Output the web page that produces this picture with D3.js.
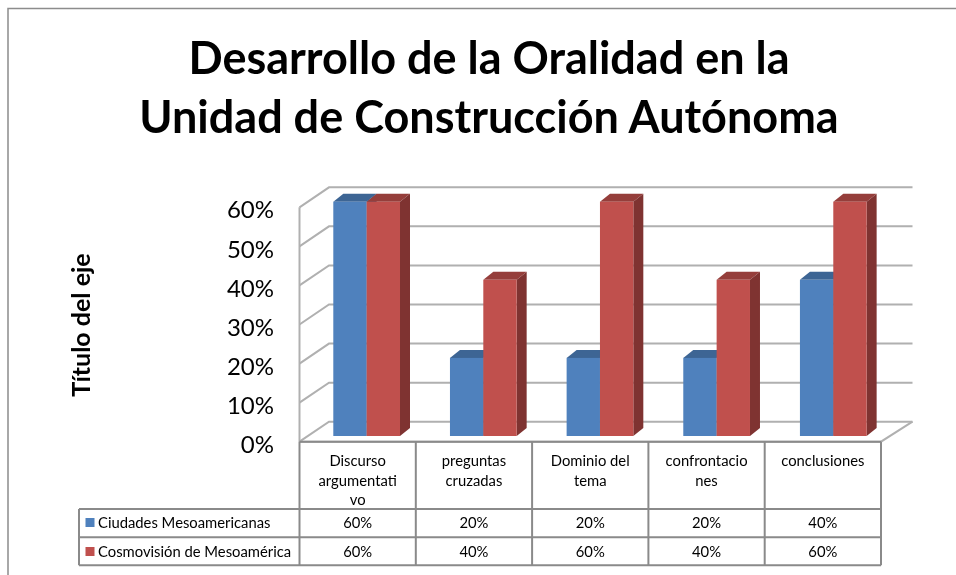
<!DOCTYPE html>
<html>
<head>
<meta charset="utf-8">
<title>Desarrollo de la Oralidad</title>
<style>
  body { margin: 0; background: #fff; }
  svg { display: block; filter: blur(0.45px); }
  text { font-family: Lato, "Open Sans", sans-serif; fill: #000; }
</style>
<script src="https://cdnjs.cloudflare.com/ajax/libs/d3/7.8.5/d3.min.js"></script>
</head>
<body>
<script>
// data
var categories = ["Discurso argumentativo", "preguntas cruzadas", "Dominio del tema", "confrontaciones", "conclusiones"];
var categoryLines = [["Discurso", "argumentati", "vo"], ["preguntas", "cruzadas"], ["Dominio del", "tema"], ["confrontacio", "nes"], ["conclusiones"]];
var seriesNames = ["Ciudades Mesoamericanas", "Cosmovisión de Mesoamérica"];
var ciudades = [0.6, 0.2, 0.2, 0.2, 0.4];
var cosmovision = [0.6, 0.4, 0.6, 0.4, 0.6];
var yTicks = [0, 0.1, 0.2, 0.3, 0.4, 0.5, 0.6];
var titleLines = ["Desarrollo de la Oralidad en la", "Unidad de Construcción Autónoma"];
var axisTitle = "Título del eje";

var seriesValues = [ciudades, cosmovision];
var colors = ["#4f81bd", "#c0504d"];
var topColors = ["#3d6594", "#953e3b"];
var sideColors = ["#375a85", "#7f3331"];

var width = 956, height = 575;
var svg = d3.select("body").append("svg").attr("width", width).attr("height", height);

// outer frame, only top and left show
svg.append("path").attr("d", "M8,575V8.5H956").attr("fill", "none").attr("stroke", "#8c8c8c").attr("stroke-width", 1.5);

// title
svg.selectAll(".title").data(titleLines).enter().append("text")
  .attr("class", "title")
  .attr("x", 489)
  .attr("y", function(d, i) { return 74 + i * 59; })
  .attr("text-anchor", "middle")
  .style("font-size", "45px")
  .style("font-weight", "bold")
  .text(function(d) { return d; });

svg.append("text")
  .attr("transform", "translate(90,325) rotate(-90)")
  .attr("text-anchor", "middle")
  .style("font-size", "25px")
  .style("font-weight", "bold")
  .text(axisTitle);

// scales: xBar places the bar groups, xCol the table columns
var xBar = d3.scaleBand().domain(categories).range([333.3, 916.6]);
var xCol = d3.scaleBand().domain(categories).range([299.5, 881]);
var xSeries = d3.scaleBand().domain([0, 1]).range([0, 66.7]);
var yWall = d3.scaleLinear().domain([0, 0.6]).range([441.7, 207.3]);
var yBar = d3.scaleLinear().domain([0, 0.6]).range([436, 201.7]);

var wallDx = 31.5, wallDy = -20;
var barDx = 10, barDy = -8;
var gridColor = "#b0b0b0";
var tableRight = 881;

// walls
var grid = svg.append("g").attr("fill", "none").attr("stroke", gridColor).attr("stroke-width", 2);
grid.selectAll(".g").data(yTicks).enter().append("path")
  .attr("d", function(d) {
    var y0 = yWall(d);
    return "M299.5," + y0 + "L" + (299.5 + 29.5) + "," + (y0 + wallDy) + "H" + (tableRight + wallDx);
  });
grid.append("path").attr("d", "M299.5," + yWall(0) + "V" + yWall(0.6));
grid.append("path").attr("d", "M299.5," + yWall(0) + "H" + tableRight + "L" + (tableRight + wallDx) + "," + (yWall(0) + wallDy));

// y labels
var yAxis = d3.axisLeft(yWall).tickValues(yTicks).tickSize(0).tickPadding(0).tickFormat(d3.format(".0%"));
var yG = svg.append("g").attr("transform", "translate(274,3)").call(yAxis);
yG.select(".domain").remove();
yG.selectAll("text").style("font-size", "24px").style("font-family", "Lato, sans-serif");

// bars, blue first so red covers its side
seriesValues.forEach(function(vals, s) {
  var g = svg.append("g");
  vals.forEach(function(v, i) {
    var bx = xBar(categories[i]) + xSeries(s);
    var bw = xSeries.bandwidth();
    var top = yBar(v), bot = yBar(0);
    g.append("path").attr("fill", topColors[s])
      .attr("d", "M" + bx + "," + top + "l" + barDx + "," + barDy + "h" + bw + "l" + (-barDx) + "," + (-barDy) + "z");
    g.append("path").attr("fill", sideColors[s])
      .attr("d", "M" + (bx + bw) + "," + top + "l" + barDx + "," + barDy + "V" + (bot + barDy) + "l" + (-barDx) + "," + (-barDy) + "z");
    g.append("rect").attr("x", bx).attr("y", top).attr("width", bw).attr("height", bot - top).attr("fill", colors[s]);
  });
});

// data table
var rowY = [441.7, 509, 537.3, 565.3];
var tableLeft = 79;
var colX = categories.map(function(c) { return xCol(c); }).concat([tableRight]);
var tbl = svg.append("g").attr("stroke", "#8a8a8a").attr("stroke-width", 2).attr("fill", "none");
colX.forEach(function(cx) {
  tbl.append("line").attr("x1", cx).attr("x2", cx).attr("y1", rowY[0]).attr("y2", rowY[3]);
});
tbl.append("line").attr("x1", 299.5).attr("x2", tableRight).attr("y1", rowY[0]).attr("y2", rowY[0]);
rowY.slice(1).forEach(function(ry) {
  tbl.append("line").attr("x1", tableLeft).attr("x2", tableRight).attr("y1", ry).attr("y2", ry);
});
tbl.append("line").attr("x1", tableLeft).attr("x2", tableLeft).attr("y1", rowY[1]).attr("y2", rowY[3]);

// category labels in the table
categoryLines.forEach(function(lines, i) {
  lines.forEach(function(line, j) {
    svg.append("text")
      .attr("x", xCol(categories[i]) + xCol.bandwidth() / 2)
      .attr("y", 466 + j * 19.7)
      .attr("text-anchor", "middle")
      .style("font-size", "14.8px")
      .text(line);
  });
});

// legend keys and values
seriesNames.forEach(function(name, s) {
  var base = s == 0 ? 528 : 557;
  svg.append("rect").attr("x", 85.5).attr("y", base - 10).attr("width", 9).attr("height", 9).attr("fill", colors[s]);
  svg.append("text").attr("x", 98).attr("y", base).style("font-size", "14.8px").text(name);
  seriesValues[s].forEach(function(v, i) {
    svg.append("text")
      .attr("x", xCol(categories[i]) + xCol.bandwidth() / 2)
      .attr("y", base)
      .attr("text-anchor", "middle")
      .style("font-size", "14.8px")
      .text(d3.format(".0%")(v));
  });
});
</script>
</body>
</html>
